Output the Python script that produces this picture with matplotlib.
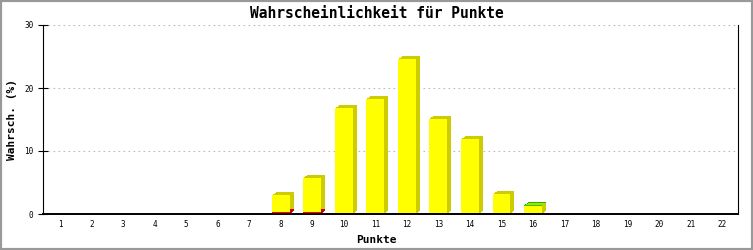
import matplotlib
matplotlib.use("Agg")
import matplotlib.pyplot as plt
import matplotlib.transforms as mtransforms
from matplotlib.patches import Rectangle
import numpy as np

# data
punkte = list(range(1, 23))
rot = [0]*7 + [0.3, 0.25] + [0]*13
gelb = [0]*7 + [2.7, 5.5, 16.8, 18.25, 24.6, 15.1, 11.9, 3.2, 1.3] + [0]*6
gruen = [0]*15 + [0.12] + [0]*6

fig = plt.figure(figsize=(7.53, 2.5), dpi=100)
ax = fig.add_axes([43/753, 36/250, 695/753, 189/250])

x = np.array(punkte)
rot = np.array(rot)
gelb = np.array(gelb)
gruen = np.array(gruen)
w = 0.57

segs = [
    (rot, np.zeros(22), '#ff0000', '#cc0000'),
    (gelb, rot, '#ffff00', '#cccc00'),
    (gruen, rot + gelb, '#00e000', '#00c800'),
]

# 3d look: shadow copies shifted right/up in a few steps
for k in [1, 2, 3, 4]:
    off = mtransforms.offset_copy(ax.transData, fig=fig, x=k, y=0.75*k, units='dots')
    for vals, bot, c, sc in segs:
        m = vals > 0
        bars = ax.bar(x[m], vals[m], w, bottom=bot[m], color=sc, linewidth=0, zorder=2)
        for p in bars:
            p.set_transform(off)
for vals, bot, c, sc in segs:
    m = vals > 0
    ax.bar(x[m], vals[m], w, bottom=bot[m], color=c, linewidth=0, zorder=3)

ax.set_xlim(0.46, 22.5)
ax.set_ylim(0, 30)
ax.set_xticks(punkte)
ax.set_xticklabels([str(p) for p in punkte], fontsize=5.5, family='DejaVu Sans Mono')
ax.set_yticks([0, 10, 20, 30])
ax.set_yticklabels(['0', '10', '20', '30'], fontsize=5.5, family='DejaVu Sans Mono')
ax.tick_params(axis='x', length=0, pad=4.5)
ax.tick_params(axis='y', direction='inout', length=7.2, width=0.8, pad=3.2)

ax.yaxis.grid(True, color='#bbbbbb', linestyle=(0, (1.5, 3)), linewidth=0.8)
ax.set_axisbelow(True)

ax.spines['top'].set_visible(False)
ax.spines['left'].set_linewidth(0.8)
ax.spines['right'].set_linewidth(0.8)
ax.spines['bottom'].set_linewidth(1.4)
for s in ax.spines.values():
    s.set_zorder(5)

fig.text(0.5, 1 - 13/250, 'Wahrscheinlichkeit für Punkte', ha='center', va='center',
         fontsize=10.5, fontweight='bold', family='DejaVu Sans Mono')
fig.text(0.5, 1 - 240/250, 'Punkte', ha='center', va='center',
         fontsize=8, fontweight='bold', family='DejaVu Sans Mono')
fig.text(12/753, 1 - 120/250, 'Wahrsch. (%)', ha='center', va='center', rotation=90,
         fontsize=8, fontweight='bold', family='DejaVu Sans Mono')

fig.patches.append(Rectangle((0, 0), 1, 1, transform=fig.transFigure, fill=False,
                             edgecolor='#999999', linewidth=3, zorder=10))

fig.savefig('out.png', dpi=100)
